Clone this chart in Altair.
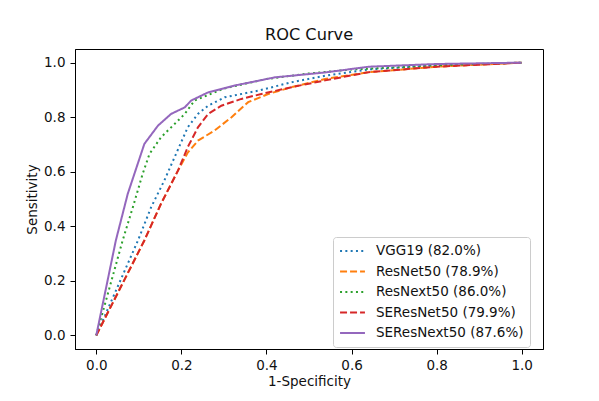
import altair as alt
import pandas as pd

models = ["VGG19 (82.0%)", "ResNet50 (78.9%)", "ResNext50 (86.0%)",
          "SEResNet50 (79.9%)", "SEResNext50 (87.6%)"]
colors = ["#1f77b4", "#ff7f0e", "#2ca02c", "#d62728", "#9467bd"]
dashes = [[2, 3.3], [7, 3], [2, 3.3], [7, 3], [1, 0]]

vgg19_fpr = [0, 0.098, 0.129, 0.16, 0.184, 0.215, 0.239, 0.263, 0.302, 0.38, 0.459, 0.538, 0.64, 0.8, 1.0]
vgg19_tpr = [0, 0.348, 0.47, 0.568, 0.653, 0.763, 0.812, 0.842, 0.873, 0.897, 0.928, 0.952, 0.975, 0.99, 1.0]

resnet50_fpr = [0, 0.113, 0.152, 0.192, 0.215, 0.239, 0.278, 0.318, 0.357, 0.404, 0.459, 0.538, 0.64, 0.8, 1.0]
resnet50_tpr = [0, 0.348, 0.482, 0.604, 0.67, 0.714, 0.751, 0.8, 0.855, 0.885, 0.91, 0.94, 0.965, 0.985, 1.0]

resnext50_fpr = [0, 0.062, 0.086, 0.109, 0.125, 0.152, 0.184, 0.208, 0.231, 0.3, 0.4, 0.498, 0.6, 0.8, 1.0]
resnext50_tpr = [0, 0.348, 0.47, 0.592, 0.665, 0.726, 0.775, 0.812, 0.861, 0.905, 0.94, 0.96, 0.975, 0.99, 1.0]

seresnet50_fpr = [0, 0.113, 0.152, 0.192, 0.215, 0.239, 0.263, 0.294, 0.341, 0.388, 0.459, 0.538, 0.64, 0.8, 1.0]
seresnet50_tpr = [0, 0.348, 0.482, 0.604, 0.69, 0.763, 0.812, 0.842, 0.867, 0.885, 0.91, 0.935, 0.965, 0.985, 1.0]

seresnext50_fpr = [0, 0.046, 0.074, 0.113, 0.145, 0.176, 0.208, 0.223, 0.263, 0.325, 0.42, 0.538, 0.64, 0.8, 1.0]
seresnext50_tpr = [0, 0.348, 0.519, 0.702, 0.769, 0.812, 0.836, 0.861, 0.891, 0.916, 0.946, 0.964, 0.985, 0.995, 1.0]

series = [(vgg19_fpr, vgg19_tpr), (resnet50_fpr, resnet50_tpr), (resnext50_fpr, resnext50_tpr),
          (seresnet50_fpr, seresnet50_tpr), (seresnext50_fpr, seresnext50_tpr)]

rows = []
for m, (fx, ty) in zip(models, series):
    for i, (a, b) in enumerate(zip(fx, ty)):
        rows.append({"model": m, "fpr": a, "tpr": b, "idx": i})
df = pd.DataFrame(rows)

font = "DejaVu Sans"
ticks = [0, 0.2, 0.4, 0.6, 0.8, 1.0]
fs = 13.5

chart = alt.Chart(df).mark_line(strokeWidth=2, clip=True).encode(
    x=alt.X("fpr:Q", scale=alt.Scale(domain=[-0.05, 1.05], nice=False, zero=False),
            axis=alt.Axis(title="1-Specificity", values=ticks, format=".1f", grid=False,
                          tickSize=5, tickColor="black", domainColor="black",
                          labelFontSize=fs, titleFontSize=fs, titleFontWeight="normal",
                          labelPadding=4, titlePadding=3, labelColor="#111", titleColor="#111",
                          labelFont=font, titleFont=font)),
    y=alt.Y("tpr:Q", scale=alt.Scale(domain=[-0.05, 1.05], nice=False, zero=False),
            axis=alt.Axis(title="Sensitivity", values=ticks, format=".1f", grid=False,
                          tickSize=5, tickColor="black", domainColor="black",
                          labelFontSize=fs, titleFontSize=fs, titleFontWeight="normal",
                          labelPadding=5, titlePadding=4, labelColor="#111", titleColor="#111",
                          labelFont=font, titleFont=font)),
    color=alt.Color("model:N", scale=alt.Scale(domain=models, range=colors),
                    legend=alt.Legend(title=None, orient="none", legendX=258, legendY=188,
                                      symbolType="stroke", symbolSize=620, symbolStrokeWidth=2,
                                      clipHeight=16, rowPadding=4.5, labelFontSize=fs,
                                      labelFont=font, labelColor="#111", padding=6,
                                      fillColor="white", strokeColor="#cccccc", cornerRadius=3,
                                      labelOffset=10)),
    strokeDash=alt.StrokeDash("model:N", scale=alt.Scale(domain=models, range=dashes), legend=None),
    order=alt.Order("idx:Q"),
).properties(
    width=468, height=300,
    title=alt.TitleParams("ROC Curve", fontSize=16.2, fontWeight="normal", font=font,
                          color="#111", offset=6),
    autosize="none",
    padding={"left": 67, "top": 41, "right": 48, "bottom": 44},
).configure_view(stroke="black", strokeWidth=1)

chart.save("out.html", embed_options={"renderer": "svg", "actions": False})
